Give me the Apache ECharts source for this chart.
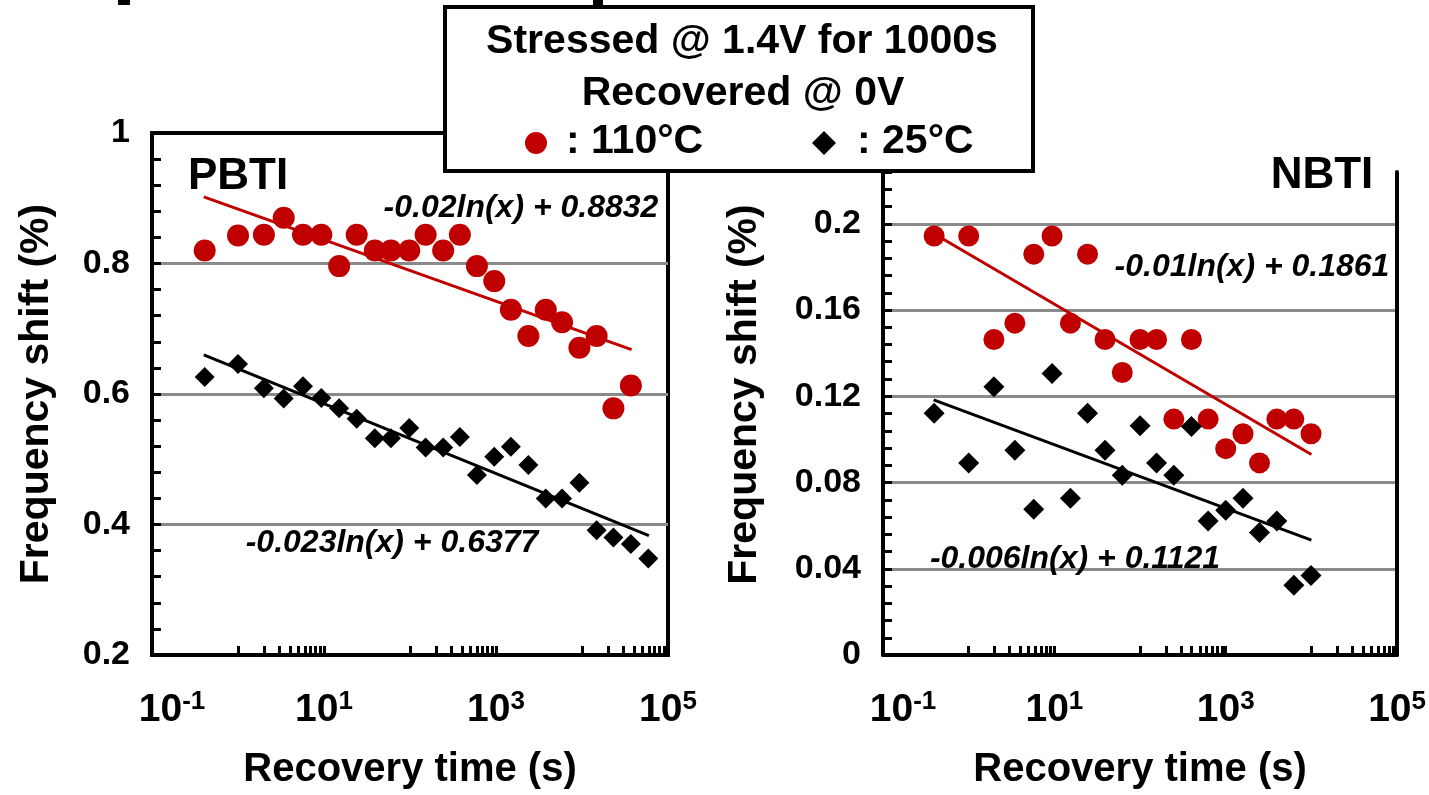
<!DOCTYPE html>
<html>
<head>
<meta charset="utf-8">
<script src="https://cdn.jsdelivr.net/npm/echarts@6/dist/echarts.min.js"></script>
<style>
html,body{margin:0;padding:0;background:#fff;}
#c{width:1429px;height:795px;}
</style>
</head>
<body>
<div id="c"></div>
<script>
// ---------------- data ----------------
const pbtiTime110  = [0.41, 1.0, 2.0, 3.4, 5.7, 9.3, 15, 24, 39, 60, 98, 152, 243, 380, 600, 955, 1490, 2380, 3790, 5860, 9330, 14800, 23200, 37000];
const pbtiShift110 = [0.820, 0.843, 0.844, 0.870, 0.844, 0.844, 0.796, 0.844, 0.820, 0.820, 0.820, 0.844, 0.820, 0.844, 0.796, 0.773, 0.729, 0.689, 0.729, 0.710, 0.671, 0.689, 0.578, 0.613];
const pbtiTime25   = [0.41, 1.0, 2.0, 3.4, 5.7, 9.3, 15, 24, 39, 60, 98, 152, 243, 380, 600, 955, 1490, 2380, 3790, 5860, 9330, 14800, 23200, 37000, 59000];
const pbtiShift25  = [0.626, 0.646, 0.609, 0.593, 0.612, 0.594, 0.578, 0.562, 0.532, 0.532, 0.548, 0.518, 0.518, 0.534, 0.476, 0.504, 0.519, 0.491, 0.440, 0.440, 0.464, 0.391, 0.380, 0.370, 0.348];

const nbtiTime     = [0.395, 1.0, 1.97, 3.46, 5.75, 9.4, 15.4, 24.4, 39, 62, 100, 156, 248, 398, 623, 1000, 1590, 2480, 3950, 6240, 9900];
const nbtiShift110 = [0.1943, 0.1943, 0.1463, 0.1539, 0.1859, 0.1943, 0.1539, 0.1859, 0.1463, 0.1310, 0.1463, 0.1463, 0.1094, 0.1463, 0.1094, 0.0957, 0.1026, 0.0891, 0.1094, 0.1094, 0.1026];
const nbtiShift25  = [0.1121, 0.0891, 0.1244, 0.0949, 0.0676, 0.1306, 0.0727, 0.1121, 0.0949, 0.0834, 0.1063, 0.0891, 0.0834, 0.1060, 0.0622, 0.0671, 0.0727, 0.0568, 0.0622, 0.0323, 0.0369];

// trend-line end points
const pbtiFit110X = [0.40, 37700];  const pbtiFit110Y = [0.902, 0.668];
const pbtiFit25X  = [0.40, 60000];  const pbtiFit25Y  = [0.660, 0.383];
const nbtiFit110X = [0.39, 10000];  const nbtiFit110Y = [0.1955, 0.093];
const nbtiFit25X  = [0.39, 10000];  const nbtiFit25Y  = [0.1183, 0.0533];

// axes / ticks / labels
const xMajorValues = [0.1, 10, 1000, 100000];
const xMajorExps   = ['-1', '1', '3', '5'];
const xTickValues  = [0.1, 1, 2, 3, 4, 5, 6, 7, 8, 9, 10, 100, 200, 300, 400, 500, 600, 700, 800, 900, 1000,
                      10000, 20000, 30000, 40000, 50000, 60000, 70000, 80000, 90000, 100000];
const pbtiYLabels  = [0.2, 0.4, 0.6, 0.8, 1.0];
const nbtiYLabels  = [0, 0.04, 0.08, 0.12, 0.16, 0.2];

const xTitle = 'Recovery time (s)';
const yTitle = 'Frequency shift (%)';
const legendLine1 = 'Stressed @ 1.4V for 1000s';
const legendLine2 = 'Recovered @ 0V';
const legend110 = ': 110°C';
const legend25 = ': 25°C';
const eqPbti110 = '-0.02ln(x) + 0.8832';
const eqPbti25  = '-0.023ln(x) + 0.6377';
const eqNbti110 = '-0.01ln(x) + 0.1861';
const eqNbti25  = '-0.006ln(x) + 0.1121';

// ---------------- styling ----------------
const FONT = '"Liberation Sans", Arial, Helvetica, sans-serif';
const RED = '#C00000';
const GRIDC = '#8a8a8a';

function xAxisFor(gi) {
  return {
    type: 'log', logBase: 10, gridIndex: gi, min: 0.1, max: 100000, z: 5,
    name: xTitle, nameLocation: 'middle', nameGap: 95,
    nameTextStyle: {fontFamily: FONT, fontWeight: 'bold', fontSize: 40, color: '#000'},
    axisLine: {show: true, onZero: false, lineStyle: {color: '#000', width: 4}},
    axisTick: {show: true, inside: true, length: 9, customValues: xTickValues, lineStyle: {color: '#000', width: 3}},
    minorTick: {show: false},
    splitLine: {show: false},
    axisLabel: {
      show: true, margin: 34, customValues: xMajorValues,
      formatter: function (v) {
        let idx = 0, best = Infinity;
        xMajorValues.forEach((m, i) => { const d = Math.abs(Math.log10(v) - Math.log10(m)); if (d < best) { best = d; idx = i; } });
        return (idx === 0 ? '{bf|10}' : '{b|10}') + '{s|' + xMajorExps[idx] + '}';
      },
      rich: {
        b:  {fontFamily: FONT, fontWeight: 'bold', fontSize: 39, color: '#000', lineHeight: 42},
        bf: {fontFamily: FONT, fontWeight: 'bold', fontSize: 39, color: '#000', lineHeight: 42, padding: [0, 0, 0, 40]},
        s:  {fontFamily: FONT, fontWeight: 'bold', fontSize: 26, color: '#000', lineHeight: 14, verticalAlign: 'top'}
      }
    }
  };
}

function yMain(gi, min, max, interval, labels, nameGap, namePad) {
  return {
    type: 'value', gridIndex: gi, min: min, max: max, interval: interval, position: 'left',
    name: yTitle, nameLocation: 'middle', nameRotate: 90, nameGap: nameGap,
    nameTextStyle: {fontFamily: FONT, fontWeight: 'bold', fontSize: 41, color: '#000', padding: namePad},
    axisLine: {show: true, onZero: false, lineStyle: {color: '#000', width: 4}},
    axisTick: {show: false},
    axisLabel: {
      show: true, margin: 22, customValues: labels,
      fontFamily: FONT, fontWeight: 'bold', fontSize: 34, color: '#000', padding: [10, 0, 0, 0],
      formatter: v => String(parseFloat(Number(v).toFixed(3)))
    },
    splitLine: {show: true, showMinLine: false, showMaxLine: false, lineStyle: {color: GRIDC, width: 3}}
  };
}
function yTicks(gi, min, max, interval) {
  return {
    type: 'value', gridIndex: gi, min: min, max: max, interval: interval, position: 'left', offset: 0,
    axisLine: {show: false, onZero: false},
    axisTick: {show: true, inside: true, length: 9, lineStyle: {color: '#000', width: 3}},
    axisLabel: {show: false},
    splitLine: {show: false}
  };
}
function yBorderRight(gi, min, max) {
  return {
    type: 'value', gridIndex: gi, min: min, max: max, position: 'right', offset: 0,
    axisLine: {show: true, onZero: false, lineStyle: {color: '#000', width: 4}},
    axisTick: {show: false}, axisLabel: {show: false}, splitLine: {show: false}
  };
}

function pts(xs, ys) { return xs.map((x, i) => [x, ys[i]]); }
function scat(xi, yi, xs, ys, symbol, size, color) {
  return {type: 'scatter', xAxisIndex: xi, yAxisIndex: yi, data: pts(xs, ys), symbol: symbol, symbolSize: size,
          itemStyle: {color: color, opacity: 1}, z: 3, silent: true};
}
function fit(xi, yi, xs, ys, color) {
  return {type: 'line', xAxisIndex: xi, yAxisIndex: yi, data: pts(xs, ys), symbol: 'none', showSymbol: false,
          lineStyle: {color: color, width: 3}, z: 4, silent: true};
}
function txt(x, y, text, size, italic, align) {
  align = align || 'center';
  return {
    type: 'text', x: x, y: y, z: 101,
    style: {text: text, fontFamily: FONT, fontWeight: 'bold', fontStyle: italic ? 'italic' : 'normal', fontSize: size,
            fill: '#000', align: align, verticalAlign: 'middle', textAlign: align, textVerticalAlign: 'middle'}
  };
}

const option = {
  animation: false,
  backgroundColor: '#fff',
  grid: [
    {left: 152, top: 133, width: 516, height: 533, show: true, borderColor: '#000', borderWidth: 4, backgroundColor: 'transparent'},
    {left: 883, top: 172, width: 517, height: 496, show: false}
  ],
  xAxis: [xAxisFor(0), xAxisFor(1)],
  yAxis: [
    yMain(0, 0.2, 1.0, 0.2, pbtiYLabels, 95, [0, 0, 0, 0]),
    yTicks(0, 0.2, 1.0, 0.04),
    yMain(1, 0, 0.224, 0.04, nbtiYLabels, 118, [0, 0, 0, 38]),
    yTicks(1, 0, 0.224, 0.008),
    yBorderRight(1, 0, 0.224)
  ],
  series: [
    scat(0, 0, pbtiTime110, pbtiShift110, 'circle', 22, RED),
    scat(0, 0, pbtiTime25, pbtiShift25, 'diamond', 20, '#000'),
    fit(0, 0, pbtiFit110X, pbtiFit110Y, RED),
    fit(0, 0, pbtiFit25X, pbtiFit25Y, '#000'),
    scat(1, 2, nbtiTime, nbtiShift110, 'circle', 21, RED),
    scat(1, 2, nbtiTime, nbtiShift25, 'diamond', 21, '#000'),
    fit(1, 2, nbtiFit110X, nbtiFit110Y, RED),
    fit(1, 2, nbtiFit25X, nbtiFit25Y, '#000')
  ],
  graphic: [
    // fragments of a cropped heading at the very top edge
    {type: 'rect', z: 99, shape: {x: 118, y: 0, width: 12, height: 5}, style: {fill: '#000'}},
    {type: 'rect', z: 99, shape: {x: 593, y: 0, width: 10, height: 5}, style: {fill: '#000'}},
    txt(238, 177, 'PBTI', 44, false),
    txt(1322, 176, 'NBTI', 44, false),
    txt(521, 208, eqPbti110, 32, true),
    txt(392, 543, eqPbti25, 32, true),
    txt(1252, 267, eqNbti110, 32, true),
    txt(1075, 559, eqNbti25, 32, true),
    {type: 'rect', z: 100, shape: {x: 445, y: 7, width: 588, height: 164},
     style: {fill: '#fff', stroke: '#000', lineWidth: 4}},
    txt(742, 42, legendLine1, 41, false),
    txt(743, 94, legendLine2, 41, false),
    {type: 'circle', z: 101, shape: {cx: 536, cy: 143, r: 11}, style: {fill: RED}},
    txt(566, 142, legend110, 41, false, 'left'),
    {type: 'polygon', z: 101, shape: {points: [[824, 131], [836, 143], [824, 155], [812, 143]]}, style: {fill: '#000'}},
    txt(857, 142, legend25, 41, false, 'left')
  ]
};

const chart = echarts.init(document.getElementById('c'), null, {renderer: 'canvas'});
chart.setOption(option);
</script>
</body>
</html>
